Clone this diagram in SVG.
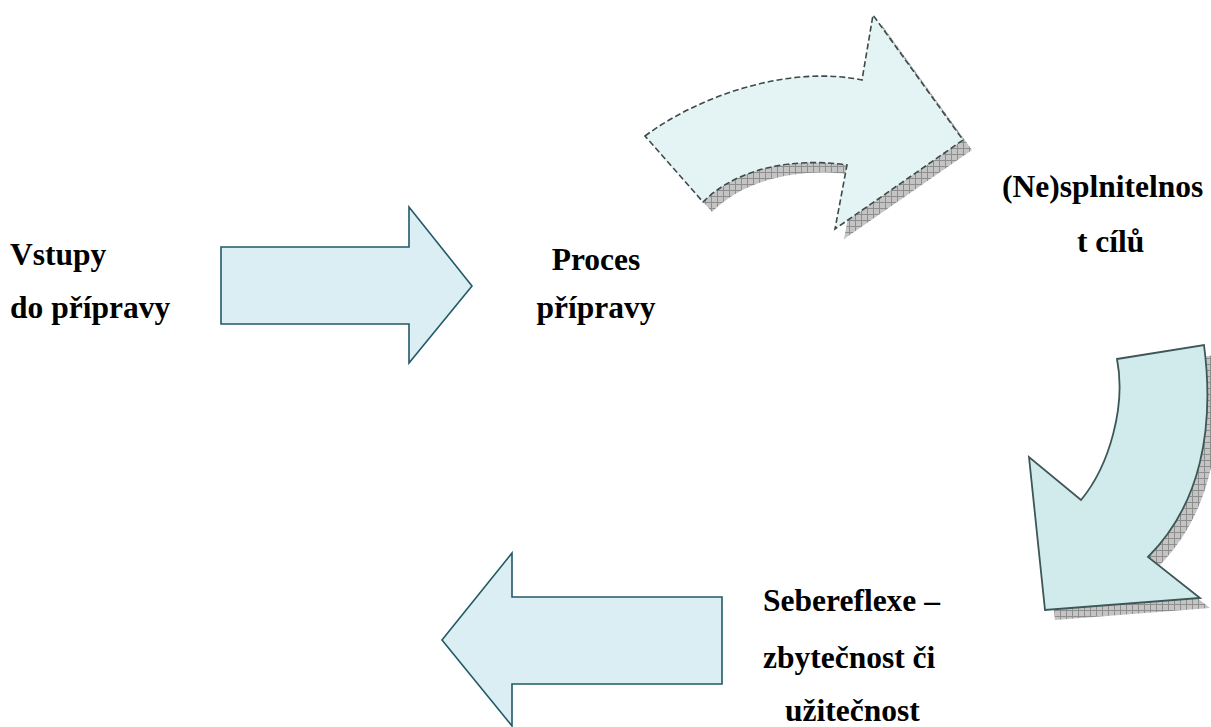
<svg xmlns="http://www.w3.org/2000/svg" width="1211" height="727" viewBox="0 0 1211 727">
<style>
.lbl{font-family:"Liberation Serif",Tinos,"Times New Roman","DejaVu Serif",serif;font-weight:bold;font-size:31.5px;fill:#000}
.straight{fill:#dbeef3;stroke:#215968;stroke-width:1.6}
.shadow{fill:url(#hatch)}
</style>
<defs>
<pattern id="hatch" width="6" height="6" patternUnits="userSpaceOnUse">
<rect width="6" height="6" fill="#c4c4c4"/>
<path d="M0,0.5H6M0.5,0V6" stroke="#8e8e8e" stroke-width="1"/>
</pattern>
</defs>
<rect width="1211" height="727" fill="#fff"/>
<g id="connectors">
<g id="arrow-right">
<polygon class="straight" points="221,247 409,247 409,207 472,286 409,363 409,324 221,324"/>
</g>
<g id="arrow-curved-top">
<path class="shadow" transform="translate(9,10)" d="M645,136 C700,95 790,65 862,80 L873,15 L963,140 L835,229 L847,165 C800,158 740,165 703,202 Z"/>
<path d="M645,136 C700,95 790,65 862,80 L873,15 L963,140 L835,229 L847,165 C800,158 740,165 703,202 Z" fill="#e4f4f4" stroke="#3c4a4a" stroke-width="1.6" stroke-dasharray="6,3"/>
</g>
<g id="arrow-curved-down">
<path class="shadow" transform="translate(10,10)" d="M1117,359 L1204,345 C1215,430 1200,505 1148,557 L1200,598 L1045,610 L1029,457 L1081,500 C1110,465 1126,405 1117,359 Z"/>
<path d="M1117,359 L1204,345 C1215,430 1200,505 1148,557 L1200,598 L1045,610 L1029,457 L1081,500 C1110,465 1126,405 1117,359 Z" fill="#d1eaeb" stroke="#3d5656" stroke-width="1.8"/>
</g>
<g id="arrow-left">
<polygon class="straight" points="442,640 512,553 512,597 722,597 722,684 512,684 512,726"/>
</g>
</g>
<g id="node-vstupy">
<text class="lbl" x="10" y="265">Vstupy</text>
<text class="lbl" x="10" y="318">do přípravy</text>
</g>
<g id="node-proces">
<text class="lbl" x="596" y="270" text-anchor="middle">Proces</text>
<text class="lbl" x="596" y="318" text-anchor="middle">přípravy</text>
</g>
<g id="node-splnitelnost">
<text class="lbl" x="1002" y="197">(Ne)splnitelnos</text>
<text class="lbl" x="1077" y="252">t cílů</text>
</g>
<g id="node-sebereflexe">
<text class="lbl" x="763" y="611">Sebereflexe –</text>
<text class="lbl" x="763" y="668">zbytečnost či</text>
<text class="lbl" x="785" y="721">užitečnost</text>
</g>
</svg>
